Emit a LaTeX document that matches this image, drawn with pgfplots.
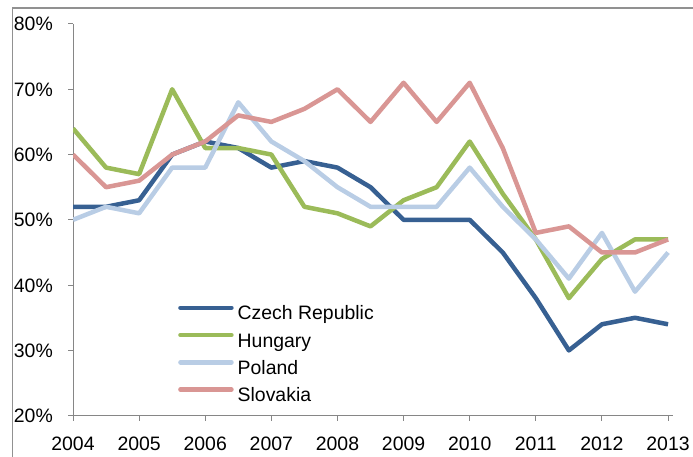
\documentclass[border=0pt]{standalone}
\usepackage{fontspec}
\setmainfont{Liberation Sans}
\usepackage{pgfplots}
\pgfplotsset{compat=1.18}
\definecolor{czech}{RGB}{55,96,146}
\definecolor{hung}{RGB}{155,187,89}
\definecolor{pol}{RGB}{185,205,229}
\definecolor{slov}{RGB}{217,150,148}
\definecolor{axgray}{RGB}{134,134,134}
\definecolor{framegray}{RGB}{145,145,145}
\begin{document}
\begin{tikzpicture}[x=1bp,y=1bp]
\begin{axis}[
  at={(73bp,41.3bp)}, anchor=south west,
  scale only axis, width=600bp, height=391.7bp,
  xmin=0, xmax=18.15, ymin=20, ymax=80,
  axis x line*=bottom, axis y line*=left,
  axis line style={axgray, line width=1bp},
  tick style={axgray, line width=1bp},
  tick align=outside, major tick length=5bp,
  xtick={0,2,...,18},
  xticklabels={2004,2005,2006,2007,2008,2009,2010,2011,2012,2013},
  ytick={20,30,...,80},
  yticklabels={20\%,30\%,40\%,50\%,60\%,70\%,80\%},
  ticklabel style={font=\fontsize{19.5}{22}\selectfont, inner sep=0pt, text height=14bp, text depth=0pt},
  xticklabel style={anchor=north, yshift=-16bp},
  yticklabel style={anchor=east, xshift=-15bp},
  legend cell align=left,
  legend style={at={(rel axis cs:0.175,0.2818)}, anchor=north west, draw=none, fill=none, inner sep=0pt,
    font=\fontsize{19.5}{22}\selectfont,
    nodes={inner sep=0pt, text height=14bp, text depth=4bp},
    row sep=9bp, column sep=4bp},
  legend image code/.code={\draw[#1, line cap=round] (0bp,7bp) -- (51bp,7bp);},
  every axis plot/.append style={line width=4.5bp, line join=round},
]
\addplot[czech] coordinates {
(0,52) (1,52) (2,53) (3,60) (4,62) (5,61) (6,58) (7,59) (8,58) (9,55)
(10,50) (11,50) (12,50) (13,45) (14,38) (15,30) (16,34) (17,35) (18,34)};
\addlegendentry{Czech Republic}
\addplot[hung] coordinates {
(0,64) (1,58) (2,57) (3,70) (4,61) (5,61) (6,60) (7,52) (8,51) (9,49)
(10,53) (11,55) (12,62) (13,54) (14,47) (15,38) (16,44) (17,47) (18,47)};
\addlegendentry{Hungary}
\addplot[pol] coordinates {
(0,50) (1,52) (2,51) (3,58) (4,58) (5,68) (6,62) (7,59) (8,55) (9,52)
(10,52) (11,52) (12,58) (13,52) (14,47) (15,41) (16,48) (17,39) (18,45)};
\addlegendentry{Poland}
\addplot[slov] coordinates {
(0,60) (1,55) (2,56) (3,60) (4,62) (5,66) (6,65) (7,67) (8,70) (9,65)
(10,71) (11,65) (12,71) (13,61) (14,48) (15,49) (16,45) (17,45) (18,47)};
\addlegendentry{Slovakia}
\end{axis}
\draw[framegray, line width=1.8bp] (12.5,0) -- (12.5,449) -- (693,449);
\pgfresetboundingbox
\path[use as bounding box] (0,0) rectangle (693,457);
\end{tikzpicture}
\end{document}
